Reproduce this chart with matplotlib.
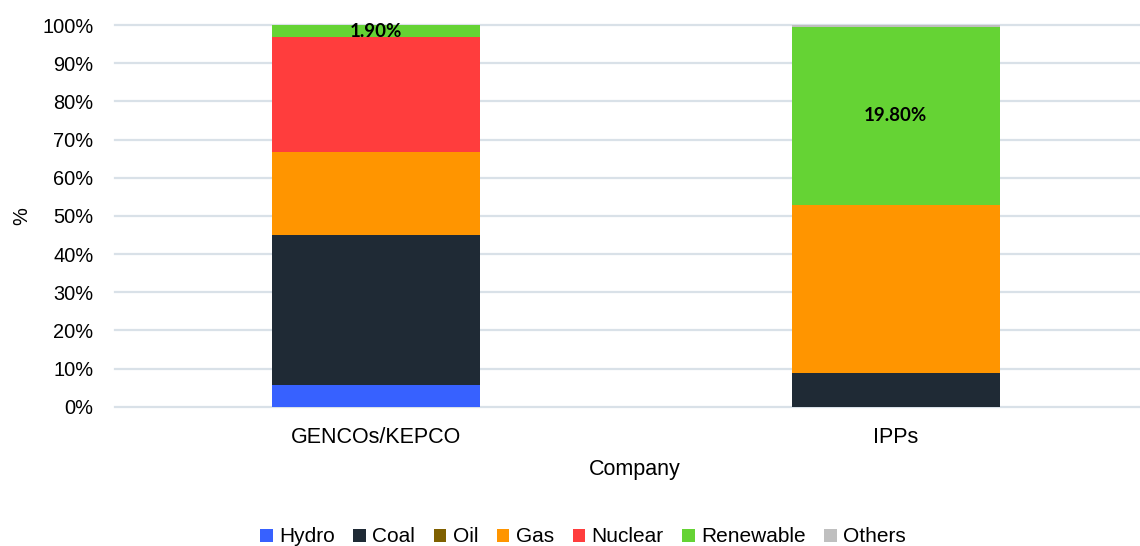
import numpy as np
import matplotlib.pyplot as plt

plt.rcParams.update({
    'font.family': 'Liberation Sans',
    'font.size': 14,
})

companies = ['GENCOs/KEPCO', 'IPPs']
sources = ['Hydro', 'Coal', 'Oil', 'Gas', 'Nuclear', 'Renewable', 'Others']
colors = ['#3761FF', '#1F2A35', '#7F6000', '#FF9500', '#FF3D3D', '#65D334', '#BFBFBF']

# share of generation (%) per company
hydro = [5.7, 0.0]
coal = [39.2, 8.8]
oil = [0.0, 0.0]
gas = [21.9, 44.1]
nuclear = [30.0, 0.0]
renewable = [3.2, 46.6]
others = [0.0, 0.5]

# labels printed on the renewable segment
renewable_labels = ['1.90%', '19.80%']

series = [hydro, coal, oil, gas, nuclear, renewable, others]

fig = plt.figure(figsize=(11.4, 5.46), dpi=100)
ax = fig.add_axes([0.1009, 0.2551, 0.8991, 0.6991])

x = np.arange(len(companies))
bottom = np.zeros(len(companies))
for name, vals, c in zip(sources, series, colors):
    vals = np.array(vals)
    ax.bar(x, vals, width=0.40, bottom=bottom, color=c, label=name, zorder=3)
    if name == 'Renewable':
        for xi, b, v, t in zip(x, bottom, vals, renewable_labels):
            ax.text(xi, b + v / 2, t, ha='center', va='center',
                    fontsize=13.5, fontweight='bold', family='Lato', zorder=4)
    bottom += vals

ax.set_xlim(-0.501, 1.470)
ax.set_ylim(0, 100)
ax.set_yticks(np.arange(0, 101, 10))
ax.set_yticklabels([f'{v}%' for v in range(0, 101, 10)], fontsize=14.4)
ax.set_xticks(x)
ax.set_xticklabels(companies, fontsize=15.5)
ax.tick_params(axis='both', length=0)
ax.tick_params(axis='y', pad=15.5)
ax.tick_params(axis='x', pad=14.5)
for s in ax.spines.values():
    s.set_visible(False)
ax.grid(axis='y', color='#D9E1E8', linewidth=1.6, zorder=0)
for gl in ax.get_ygridlines():
    gl.set_clip_on(False)

ax.set_xlabel('Company', fontsize=15.5)
ax.xaxis.set_label_coords(0.507, -0.138)
fig.text(0.0193, 0.604, '%', rotation=90, ha='center', va='center', fontsize=14.4)

ax.legend(loc='center', ncol=7, frameon=False, fontsize=15,
          handlelength=0.6, handleheight=0.6, handletextpad=0.3,
          columnspacing=0.9,
          bbox_to_anchor=(583 / 1140, 9 / 546), bbox_transform=fig.transFigure)

fig.savefig('out.png', dpi=100)
